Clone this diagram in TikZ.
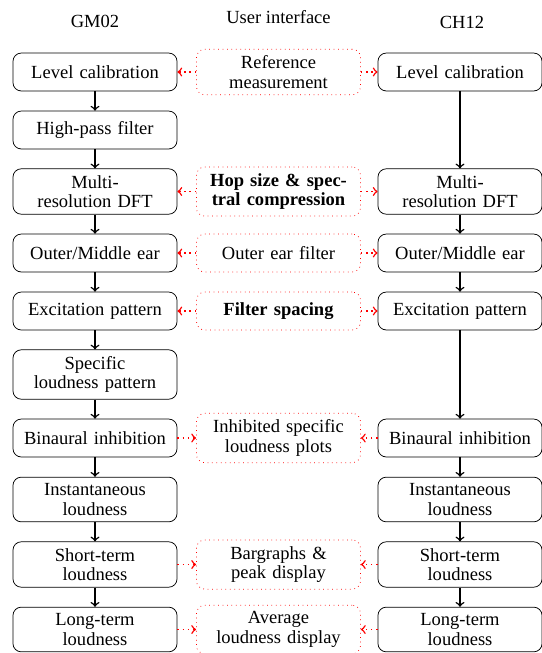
\documentclass[tikz,border=0pt]{standalone}
\usepackage{fontspec}
\setmainfont{Liberation Serif}
\usetikzlibrary{positioning}

\tikzset{
  blk/.style={draw, rounded corners=4.5pt, align=center, text width=84.6pt,
    inner xsep=2pt, inner ysep=3.5pt, minimum height=20.5pt,
    execute at begin node={\setlength{\baselineskip}{10.5pt}}},
  ui/.style={blk, draw=red, dotted},
  flow/.style={->, thick},
  link/.style={->, red, dotted, thick},
}

\begin{document}
\begin{tikzpicture}[x=0.54pt,y=-0.54pt]
\useasboundingbox (0,0) rectangle (542,653);
% column headers
\node[anchor=base] (hG) at (95,27) {GM02};
\node[anchor=base] (hU) at (278.5,23) {User interface};
\node[anchor=base] (hC) at (462,28) {CH12};

% GM02 chain
\node[blk] (gLC) at (95,72) {Level calibration};
\node[blk] (gHP) at (95,130) {High-pass filter};
\node[blk] (gMR) at (95,191.5) {Multi-\\resolution DFT};
\node[blk] (gOM) at (95,253) {Outer/Middle ear};
\node[blk] (gEP) at (95,311) {Excitation pattern};
\node[blk] (gSL) at (95,374.5) {Specific\\loudness pattern};
\node[blk] (gBI) at (95,438) {Binaural inhibition};
\node[blk] (gIL) at (95,499.5) {Instantaneous\\loudness};
\node[blk] (gST) at (95,564.5) {Short-term\\loudness};
\node[blk] (gLT) at (95,629.5) {Long-term\\loudness};

% CH12 chain
\node[blk] (cLC) at (460,72) {Level calibration};
\node[blk] (cMR) at (460,191.5) {Multi-\\resolution DFT};
\node[blk] (cOM) at (460,253) {Outer/Middle ear};
\node[blk] (cEP) at (460,311) {Excitation pattern};
\node[blk] (cBI) at (460,438) {Binaural inhibition};
\node[blk] (cIL) at (460,499.5) {Instantaneous\\loudness};
\node[blk] (cST) at (460,564.5) {Short-term\\loudness};
\node[blk] (cLT) at (460,629.5) {Long-term\\loudness};

% user interface
\node[ui] (uRM) at (278.5,72) {Reference\\measurement};
\node[ui] (uHS) at (278.5,191.5) {\textbf{Hop size \& spec-}\\\textbf{tral compression}};
\node[ui] (uOF) at (278.5,253) {Outer ear filter};
\node[ui] (uFS) at (278.5,311) {\textbf{Filter spacing}};
\node[ui] (uIS) at (278.5,438) {Inhibited specific\\loudness plots};
\node[ui] (uBG) at (278.5,564.5) {Bargraphs \&\\peak display};
\node[ui] (uAL) at (278.5,629.5) {Average\\loudness display};

% processing flow
\draw[flow] (gLC) -- (gHP);
\draw[flow] (gHP) -- (gMR);
\draw[flow] (gMR) -- (gOM);
\draw[flow] (gOM) -- (gEP);
\draw[flow] (gEP) -- (gSL);
\draw[flow] (gSL) -- (gBI);
\draw[flow] (gBI) -- (gIL);
\draw[flow] (gIL) -- (gST);
\draw[flow] (gST) -- (gLT);
\draw[flow] (cLC) -- (cMR);
\draw[flow] (cMR) -- (cOM);
\draw[flow] (cOM) -- (cEP);
\draw[flow] (cEP) -- (cBI);
\draw[flow] (cBI) -- (cIL);
\draw[flow] (cIL) -- (cST);
\draw[flow] (cST) -- (cLT);

% settings from the interface
\foreach \u/\g/\c in {uRM/gLC/cLC, uHS/gMR/cMR, uOF/gOM/cOM, uFS/gEP/cEP}{
  \draw[link] (\u.west) -- (\g.east);
  \draw[link] (\u.east) -- (\c.west);
}
% displays in the interface
\foreach \u/\g/\c in {uIS/gBI/cBI, uBG/gST/cST, uAL/gLT/cLT}{
  \draw[link] (\g.east) -- (\u.west);
  \draw[link] (\c.west) -- (\u.east);
}
\end{tikzpicture}
\end{document}
